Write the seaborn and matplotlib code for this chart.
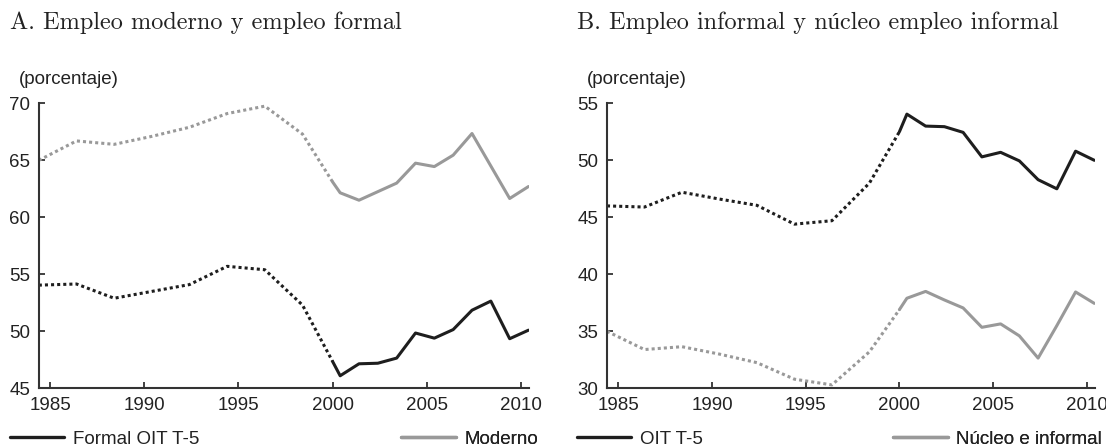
import matplotlib
matplotlib.use("Agg")
import matplotlib.pyplot as plt
from matplotlib.lines import Line2D
import seaborn as sns

# ---- data ----
years_dot = [1984.4, 1986.4, 1988.4, 1990.4, 1992.4, 1994.4, 1996.4, 1998.4, 2000.0]
years_sol = [2000.0, 2000.4, 2001.4, 2002.4, 2003.4, 2004.4, 2005.4, 2006.4, 2007.4, 2008.4, 2009.4, 2010.4]

moderno_dot = [65.0, 66.7, 66.4, 67.1, 67.9, 69.1, 69.75, 67.3, 63.1]
moderno_sol = [63.1, 62.15, 61.5, 62.25, 63.0, 64.75, 64.45, 65.45, 67.35, 64.5, 61.65, 62.7]
formal_dot = [54.05, 54.15, 52.9, 53.5, 54.1, 55.7, 55.4, 52.3, 47.35]
formal_sol = [47.35, 46.1, 47.15, 47.2, 47.65, 49.85, 49.4, 50.15, 51.85, 52.65, 49.35, 50.1]

oit_dot = [46.0, 45.9, 47.2, 46.6, 46.05, 44.4, 44.7, 48.0, 52.5]
oit_sol = [52.5, 54.05, 53.0, 52.95, 52.45, 50.3, 50.7, 49.95, 48.3, 47.5, 50.8, 50.0]
nucleo_dot = [35.0, 33.4, 33.65, 33.0, 32.25, 30.8, 30.3, 33.2, 36.9]
nucleo_sol = [36.9, 37.9, 38.5, 37.75, 37.05, 35.35, 35.65, 34.6, 32.65, 35.5, 38.45, 37.45]

xticks = [1985, 1990, 1995, 2000, 2005, 2010]
yticks_a = [45, 50, 55, 60, 65, 70]
yticks_b = [30, 35, 40, 45, 50, 55]

titles = ["A. Empleo moderno y empleo formal", "B. Empleo informal y núcleo empleo informal"]
ylabel = "(porcentaje)"
legend_a = ["Formal OIT T-5", "Moderno"]
legend_b = ["OIT T-5", "Núcleo e informal"]

# ---- style ----
sns.set_theme(style="ticks")
plt.rcParams["font.family"] = ["Liberation Sans", "DejaVu Sans"]

BLACK = "#1e1e1e"
GRAY = "#999999"
SPINE = "#333333"
LW = 2.2
DOT = (0, (1, 1))
FS = 13.5

fig = plt.figure(figsize=(11.06, 4.47), dpi=100)
axA = fig.add_axes([0.0351, 0.1313, 0.4436, 0.6376])
axB = fig.add_axes([0.5488, 0.1313, 0.4415, 0.6376])

def draw(ax, dark_dot, dark_sol, light_dot, light_sol, yticks):
    sns.lineplot(x=years_dot, y=light_dot, ax=ax, color=GRAY, lw=LW, linestyle=DOT)
    sns.lineplot(x=years_sol, y=light_sol, ax=ax, color=GRAY, lw=LW)
    sns.lineplot(x=years_dot, y=dark_dot, ax=ax, color=BLACK, lw=LW, linestyle=DOT)
    sns.lineplot(x=years_sol, y=dark_sol, ax=ax, color=BLACK, lw=LW)
    ax.set_xlim(1984.4, 2010.45)
    ax.set_ylim(yticks[0], yticks[-1])
    ax.set_xticks(xticks)
    ax.set_yticks(yticks)
    ax.set_xlabel("")
    ax.set_ylabel("")
    for s in ["top", "right"]:
        ax.spines[s].set_visible(False)
    for s in ["left", "bottom"]:
        ax.spines[s].set_color(SPINE)
        ax.spines[s].set_linewidth(1.5)
    ax.tick_params(direction="in", length=4, width=1.3, color=SPINE,
                   labelsize=FS, labelcolor="#222222", pad=6)
    ax.spines["bottom"].set_clip_on(False)

draw(axA, formal_dot, formal_sol, moderno_dot, moderno_sol, yticks_a)
draw(axB, oit_dot, oit_sol, nucleo_dot, nucleo_sol, yticks_b)

title_font = dict(family=["cmr10", "Liberation Serif"], fontsize=17.5, color="#222222")
fig.text(10 / 1106, 1 - 29 / 447, titles[0], ha="left", va="baseline", **title_font)
fig.text(577 / 1106, 1 - 29 / 447, titles[1], ha="left", va="baseline", **title_font)

fig.text(19 / 1106, 1 - 79 / 447, ylabel, ha="left", va="center", fontsize=FS, color="#222222")
fig.text(587 / 1106, 1 - 79 / 447, ylabel, ha="left", va="center", fontsize=FS, color="#222222")

def leg(ax, label, color, x, anchor):
    h = Line2D([], [], color=color, lw=2.4)
    lg = ax.legend(handles=[h], labels=[label], loc=anchor,
                   bbox_to_anchor=(x / 1106, 1 - 439 / 447), bbox_transform=fig.transFigure,
                   frameon=False, borderpad=0, borderaxespad=0, handlelength=2.9,
                   handletextpad=0.45, fontsize=FS, labelcolor="#222222")
    ax.add_artist(lg)

leg(axA, legend_a[0], BLACK, 10, "center left")
leg(axA, legend_a[1], GRAY, 538, "center right")
leg(axB, legend_b[0], BLACK, 577, "center left")
leg(axB, legend_b[1], GRAY, 1102, "center right")

fig.savefig("out.png", dpi=100)
